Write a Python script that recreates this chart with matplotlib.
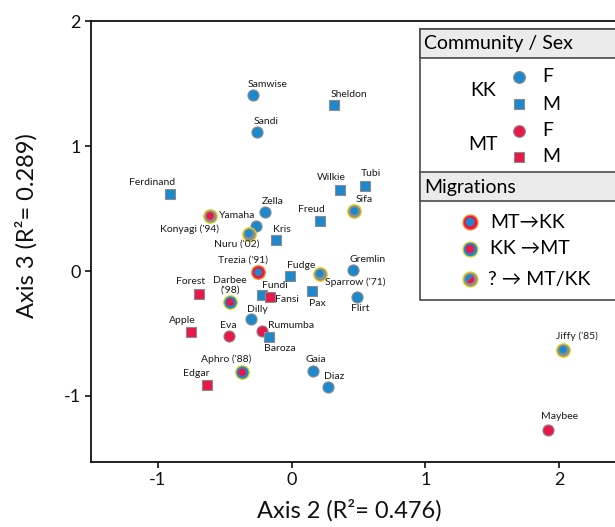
import matplotlib
matplotlib.use("Agg")
import matplotlib.pyplot as plt
from matplotlib.patches import Rectangle, Wedge

plt.rcParams['font.family'] = ['Lato', 'DejaVu Sans']
plt.rcParams['axes.unicode_minus'] = False

# ---- data -----------------------------------------------------------------
names = ["Samwise", "Sheldon", "Sandi", "Ferdinand", "Wilkie", "Tubi", "Zella",
         "Sifa", "Konyagi ('94)", "Yamaha", "Nuru ('02)", "Kris", "Freud",
         "Trezia ('91)", "Fudge", "Sparrow ('71)", "Gremlin", "Forest",
         "Darbee\n('98)", "Fundi", "Fansi", "Pax", "Flirt", "Dilly", "Apple",
         "Eva", "Rumumba", "Baroza", "Aphro ('88)", "Edgar", "Gaia", "Diaz",
         "Jiffy ('85)", "Maybee"]
axis2 = [-0.29, 0.32, -0.26, -0.91, 0.36, 0.55, -0.20,
         0.47, -0.61, -0.27, -0.32, -0.12, 0.21,
         -0.25, -0.01, 0.21, 0.46, -0.69,
         -0.46, -0.22, -0.16, 0.15, 0.49, -0.30, -0.75,
         -0.47, -0.22, -0.17, -0.37, -0.63, 0.16, 0.27,
         2.03, 1.92]
axis3 = [1.41, 1.33, 1.11, 0.62, 0.65, 0.68, 0.47,
         0.48, 0.44, 0.36, 0.30, 0.25, 0.40,
         -0.01, -0.04, -0.02, 0.01, -0.18,
         -0.25, -0.19, -0.21, -0.16, -0.21, -0.38, -0.49,
         -0.52, -0.48, -0.53, -0.81, -0.91, -0.80, -0.93,
         -0.63, -1.27]
community = ["KK", "KK", "KK", "KK", "KK", "KK", "KK",
             "KK", "MT", "KK", "KK", "KK", "KK",
             "KK", "KK", "KK", "KK", "MT",
             "MT", "KK", "MT", "KK", "KK", "KK", "MT",
             "MT", "MT", "KK", "MT", "MT", "KK", "KK",
             "KK", "MT"]
sex = ["F", "M", "F", "M", "M", "M", "F",
       "F", "F", "F", "F", "M", "M",
       "F", "M", "F", "F", "M",
       "F", "M", "M", "M", "F", "F", "M",
       "F", "F", "M", "F", "M", "F", "F",
       "F", "F"]
migration = ["", "", "", "", "", "", "",
             "?", "?", "", "?", "", "",
             "MT>KK", "", "?", "", "",
             "KK>MT", "", "", "", "", "", "",
             "", "", "", "KK>MT", "", "", "",
             "?", ""]

# label placement (offset from marker, pixels, x right / y down)
label_offsets = {
    "Samwise": (15, -10), "Sheldon": (15, -10), "Sandi": (9, -11),
    "Ferdinand": (-18, -11), "Wilkie": (-8, -12), "Tubi": (6, -12),
    "Zella": (8, -11), "Sifa": (10, -12), "Konyagi ('94)": (-21, 13),
    "Yamaha": (-18, -11), "Nuru ('02)": (-12, 11), "Kris": (6, -10),
    "Freud": (-8, -11), "Trezia ('91)": (-15, -12), "Fudge": (11, -11),
    "Sparrow ('71)": (36, 9), "Gremlin": (14, -10), "Forest": (-9, -12),
    "Darbee\n('98)": (0, -17), "Fundi": (13, -9), "Fansi": (17, 2),
    "Pax": (6, 12), "Flirt": (3, 11), "Dilly": (6, -9), "Apple": (-9, -12),
    "Eva": (0, -10), "Rumumba": (29, -5), "Baroza": (11, 11),
    "Aphro ('88)": (-16, -13), "Edgar": (-11, -11), "Gaia": (3, -11),
    "Diaz": (6, -11), "Jiffy ('85)": (14, -14), "Maybee": (11, -13),
}

# ---- style ----------------------------------------------------------------
BLUE = "#1e88cc"
RED = "#e8184b"
EDGE = "#8c8c8c"
RING_GREY = "#8e8e8e"
YELLOW = "#e6d31a"
fill = {"KK": BLUE, "MT": RED}
shape = {"F": "o", "M": "s"}
ring = {"MT>KK": (RED, "#f08a1c"), "KK>MT": (BLUE, YELLOW), "?": (RING_GREY, YELLOW)}

W, H = 615, 527
fig = plt.figure(figsize=(W / 100, H / 100), dpi=100)
ax = fig.add_axes([91 / W, 65 / H, 524 / W, 441 / H])

for n, x, y, c, s, m in zip(names, axis2, axis3, community, sex, migration):
    if m:
        rc, ec = ring[m]
        ax.scatter([x], [y], s=95, marker="o", facecolor=rc, edgecolor=ec,
                   linewidths=0.9, zorder=3, clip_on=False)
        ax.scatter([x], [y], s=30, marker="o", facecolor=fill[c],
                   edgecolor="none", zorder=4, clip_on=False)
    else:
        size = 64 if s == "F" else 52
        ax.scatter([x], [y], s=size, marker=shape[s], facecolor=fill[c],
                   edgecolor=EDGE, linewidths=0.8, zorder=3, clip_on=False)
    dx, dy = label_offsets[n]
    ax.annotate(n, (x, y), xytext=(dx, -dy), textcoords="offset pixels",
                ha="center", va="center", fontsize=7.5, color="#1a1a1a",
                linespacing=1.05, zorder=5)

ax.set_xlim(-1.5, 2.418)
ax.set_ylim(-1.528, 2.0)
ax.set_xticks([-1, 0, 1, 2])
ax.set_yticks([-1, 0, 1, 2])
ax.tick_params(axis="both", direction="out", length=4.5, width=1.2,
               labelsize=13, colors="#111111", pad=3)
for side in ("left", "bottom", "top"):
    ax.spines[side].set_linewidth(1.3)
    ax.spines[side].set_color("#111111")
ax.spines["right"].set_visible(False)

fig.text(349 / W, 1 - 510 / H, "Axis 2 (R²= 0.476)", ha="center", va="center",
         fontsize=17, color="#111111")
fig.text(26 / W, 1 - 226 / H, "Axis 3 (R²= 0.289)", ha="center", va="center",
         fontsize=17, rotation=90, color="#111111")

# ---- legend panel (pixel coordinates, y measured upward) --------------------
lg = fig.add_axes([0, 0, 1, 1], zorder=10)
lg.set_xlim(0, W)
lg.set_ylim(0, H)
lg.axis("off")
lg.patch.set_alpha(0)


def Y(py):
    return H - py


BORDER = "#4a4a4a"
lg.add_patch(Rectangle((420, Y(300)), 220, 271, facecolor="white",
                       edgecolor=BORDER, linewidth=1.2, clip_on=False, zorder=1))
lg.add_patch(Rectangle((420, Y(58)), 220, 29, facecolor="#ebebeb",
                       edgecolor=BORDER, linewidth=1.2, clip_on=False, zorder=1))
lg.add_patch(Rectangle((420, Y(201)), 220, 29, facecolor="#ebebeb",
                       edgecolor=BORDER, linewidth=1.2, clip_on=False, zorder=1))

LFS = 14
lg.text(424, Y(43), "Community / Sex", ha="left", va="center", fontsize=LFS)
lg.text(424, Y(187), "Migrations", ha="left", va="center", fontsize=LFS)

lg.text(483, Y(91), "KK", ha="center", va="center", fontsize=LFS)
lg.text(483, Y(144), "MT", ha="center", va="center", fontsize=LFS)
legend_rows = [("KK", "F", 77), ("KK", "M", 104), ("MT", "F", 131), ("MT", "M", 157)]
for c, s, py in legend_rows:
    lg.scatter([519], [Y(py)], s=72 if s == "F" else 60, marker=shape[s],
               facecolor=fill[c], edgecolor=EDGE, linewidths=0.8, zorder=2)
    lg.text(542, Y(py), s, ha="left", va="center", fontsize=LFS)

# migration keys
for key, py in (("MT>KK", 222), ("KK>MT", 249)):
    rc, ec = ring[key]
    inner = BLUE if key == "MT>KK" else RED
    lg.scatter([470], [Y(py)], s=115, facecolor=rc, edgecolor=ec,
               linewidths=0.9, zorder=2)
    lg.scatter([470], [Y(py)], s=38, facecolor=inner, edgecolor="none", zorder=3)
lg.scatter([470], [Y(279)], s=115, facecolor=RING_GREY, edgecolor=YELLOW,
           linewidths=0.9, zorder=2)
lg.add_patch(Wedge((470, Y(279)), 4.4, 45, 225, facecolor=BLUE,
                   edgecolor="none", zorder=4))
lg.add_patch(Wedge((470, Y(279)), 4.4, 225, 405, facecolor=RED,
                   edgecolor="none", zorder=4))

lg.text(490, Y(222), "MT→KK", ha="left", va="center", fontsize=LFS)
lg.text(490, Y(249), "KK →MT", ha="left", va="center", fontsize=LFS)
lg.text(488, Y(279), "? → MT/KK", ha="left", va="center", fontsize=LFS)

fig.savefig("out.png", dpi=100)
